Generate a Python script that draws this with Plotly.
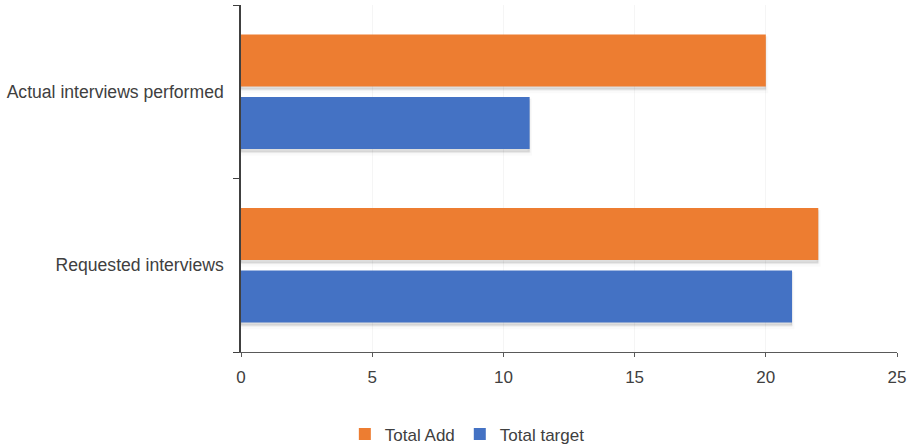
import plotly.graph_objects as go

# Data
categories = ["Requested interviews", "Actual interviews performed"]
total_add = [22, 20]
total_target = [21, 11]
x_ticks = [0, 5, 10, 15, 20, 25]

ORANGE = "#ED7D31"
BLUE = "#4472C4"
TEXT = "#404040"
FONT = "Liberation Sans, Arial, sans-serif"

BAR_W = 0.30
ADD_OFF = 0.03      # orange bar sits above the category centre
TARGET_OFF = -0.33  # blue bar sits below it

fig = go.Figure()

# soft drop shadows under each bar
for vals, off in ((total_add, ADD_OFF), (total_target, TARGET_OFF)):
    for shift, alpha, lw in ((-0.024, 0.04, 5), (-0.016, 0.09, 2)):
        fig.add_trace(go.Bar(
            y=categories, x=vals, orientation="h",
            width=BAR_W, offset=off + shift,
            marker=dict(color=f"rgba(0,0,0,{alpha})",
                        line=dict(color=f"rgba(0,0,0,{alpha/2})", width=lw)),
            showlegend=False, hoverinfo="skip",
        ))

fig.add_trace(go.Bar(
    y=categories, x=total_add, orientation="h", name="Total Add",
    width=BAR_W, offset=ADD_OFF,
    marker=dict(color=ORANGE, line=dict(width=0)),
))
fig.add_trace(go.Bar(
    y=categories, x=total_target, orientation="h", name="Total target",
    width=BAR_W, offset=TARGET_OFF,
    marker=dict(color=BLUE, line=dict(width=0)),
))

fig.update_layout(
    width=911, height=448,
    margin=dict(l=241, r=12, t=5, b=96),
    barmode="overlay",
    plot_bgcolor="white", paper_bgcolor="white",
    font=dict(family=FONT, size=17, color=TEXT),
    legend=dict(
        orientation="h", xref="container", yref="container",
        x=0.513, xanchor="center", y=0.03, yanchor="middle",
        font=dict(size=17, color=TEXT),
        itemwidth=30,
    ),
    xaxis=dict(
        range=[0, 25], tickvals=x_ticks,
        showgrid=True, gridcolor="#F5F5F5", gridwidth=1,
        zeroline=False,
        showline=True, linecolor="#595959", linewidth=1,
        ticks="outside", ticklen=4, tickcolor="#595959",
        ticklabelstandoff=6,
        tickfont=dict(size=17, color=TEXT),
    ),
    yaxis=dict(
        type="category", range=[-0.5, 1.5],
        showgrid=False, zeroline=False,
        showline=True, linecolor="#404040", linewidth=1.5,
        ticks="outside", tickson="boundaries", ticklen=6, tickcolor="#404040",
        ticklabelstandoff=12,
        tickfont=dict(size=17.6, color=TEXT),
    ),
)

fig.write_html("out.html")
